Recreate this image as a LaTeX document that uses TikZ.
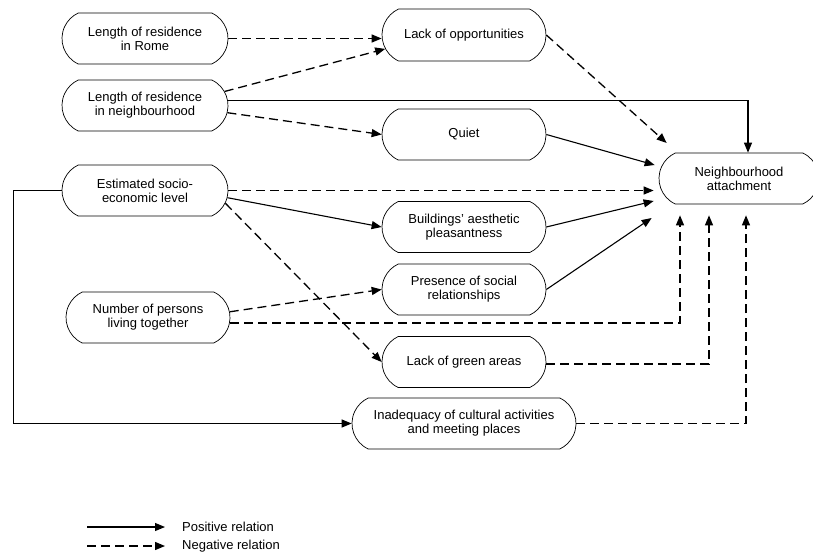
\documentclass[tikz,border=0pt]{standalone}
\usepackage{fontspec}
\setmainfont{Liberation Sans}
\usetikzlibrary{shapes.misc,arrows.meta}
\begin{document}
\begin{tikzpicture}[x=1pt,y=-1pt,
  box/.style={draw,line width=0.7pt,rounded rectangle,rounded rectangle arc length=130,
    minimum width=170pt,minimum height=51pt,inner sep=2pt,align=center,
    font=\fontsize{13}{14}\selectfont},
  posrel/.style={line width=1.1pt,-{Triangle[length=10pt,width=8pt]}},
  negrel/.style={line width=1.3pt,dash pattern=on 9pt off 5pt,-{Triangle[length=10pt,width=8pt]}},
  lab/.style={anchor=west,inner sep=1pt,font=\fontsize{13}{14}\selectfont}]
\useasboundingbox (0,0) rectangle (813,554);
% nodes
\node[box] (rome)  at (145,38.5)  {Length of residence\\in Rome};
\node[box] (nres)  at (145,105.5) {Length of residence\\in neighbourhood};
\node[box] (est)   at (145,190.5) {Estimated socio-\\economic level};
\node[box,minimum width=168pt] (num) at (148,317.5) {Number of persons\\living together};
\node[box,minimum width=168pt,minimum height=52pt] (lack) at (464,35) {Lack of opportunities};
\node[box,minimum width=168pt] (quiet) at (464,134.5) {Quiet};
\node[box,minimum width=168pt] (build) at (464,227) {Buildings' aesthetic\\pleasantness};
\node[box,minimum width=168pt] (pres)  at (464,289.5) {Presence of social\\relationships};
\node[box,minimum width=168pt] (green) at (464,362) {Lack of green areas};
\node[box,minimum width=228pt] (inad)  at (464,423.5) {Inadequacy of cultural activities\\and meeting places};
\node[box,minimum width=164pt] (na)    at (739,178.5) {Neighbourhood\\attachment};
% entry points near the outcome node
\coordinate (in3)  at ([xshift=9pt]na.north);
\coordinate (in5)  at ([xshift=8pt,yshift=35.5pt]na.west);
\coordinate (in6)  at ([xshift=-4pt,yshift=13.5pt]na.west);
\coordinate (in7)  at ([xshift=-5pt,yshift=-12pt]na.west);
\coordinate (in11) at ([xshift=-5pt,yshift=-22.5pt]na.west);
\coordinate (in12) at ([xshift=-7pt,yshift=-39.5pt]na.west);
\coordinate (in14) at ([xshift=-59pt,yshift=-11pt]na.south);
\coordinate (in15) at ([xshift=-30pt,yshift=-11pt]na.south);
\coordinate (in16) at ([xshift=7pt,yshift=-11pt]na.south);
% connectors
\draw[negrel] (rome.east) -- (rome.east -| lack.west);
\draw[negrel] (nres.10) -- (lack.190);
\draw[posrel] ([yshift=5pt]nres.east) -| (in3);
\draw[negrel] (nres.-5) -- (quiet.west);
\draw[negrel] (lack.east) -- (in5);
\draw[posrel] (quiet.east) -- (in6);
\draw[negrel] (est.east) -- (est.east -| in7);
\draw[posrel] (est.-5) -- (build.west);
\draw[negrel] (est.-9) -- (green.west);
\draw[posrel] (est.west) -- ++(-48,0) |- (inad.west);
\draw[posrel] (build.east) -- (in11);
\draw[posrel] (pres.east) -- (in12);
\draw[negrel] (num.4) -- (pres.west);
\draw[negrel] ([yshift=-5.5pt]num.east) -| (in14);
\draw[negrel] ([yshift=-2pt]green.east) -| (in15);
\draw[negrel] (inad.east) -| (in16);
% legend
\coordinate (lp1) at (87,527);
\coordinate (lp2) at (165,527);
\coordinate (ln1) at (87,546);
\coordinate (ln2) at (165,546);
\draw[posrel] (lp1) -- (lp2);
\draw[negrel] (ln1) -- (ln2);
\node[lab] (lpt) at (181,527) {Positive relation};
\node[lab] (lnt) at (181,546) {Negative relation};
\end{tikzpicture}
\end{document}
